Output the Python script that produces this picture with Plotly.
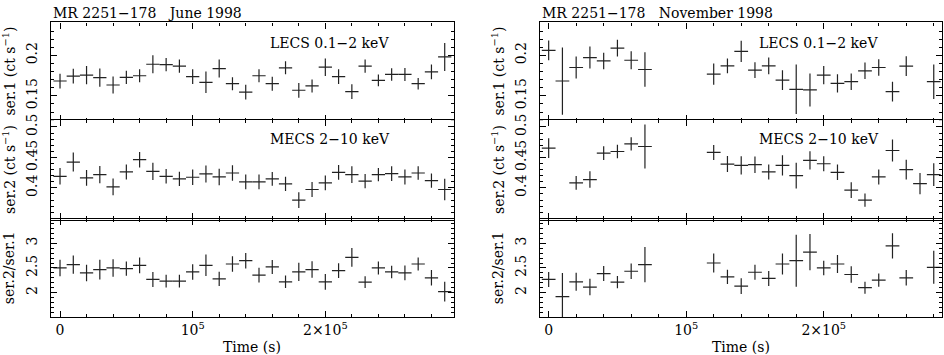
import plotly.graph_objects as go
from plotly.subplots import make_subplots

# bin centres in units of 1e4 s, 10 ks bins
t_june = [i * 1e4 for i in range(30)]
t_nov = [i * 1e4 for i in range(29)]
half_bin = 5000

# June 1998
lecs_june = [0.1683, 0.1744, 0.1756, 0.1724, 0.1634, 0.1728, 0.1748, 0.1890, 0.1886, 0.1866,
             0.1736, 0.1667, 0.1837, 0.1650, 0.1545, 0.1748, 0.1650, 0.1846, 0.1569, 0.1622,
             0.1854, 0.1736, 0.1553, 0.1866, 0.1691, 0.1764, 0.1764, 0.1650, 0.1797, 0.1980]
lecs_june_err = [0.0091, 0.0091, 0.0112, 0.0112, 0.0106, 0.0081, 0.0081, 0.0112, 0.0081, 0.0081,
                 0.0091, 0.0132, 0.0112, 0.0081, 0.0091, 0.0081, 0.0087, 0.0081, 0.0091, 0.0081,
                 0.0108, 0.0091, 0.0091, 0.0081, 0.0071, 0.0077, 0.0081, 0.0071, 0.0091, 0.0173]
mecs_june = [0.4190, 0.4424, 0.4163, 0.4217, 0.4016, 0.4261, 0.4462, 0.4272, 0.4190, 0.4147,
             0.4174, 0.4228, 0.4179, 0.4244, 0.4098, 0.4098, 0.4147, 0.4065, 0.3799, 0.3973,
             0.4081, 0.4255, 0.4217, 0.4109, 0.4217, 0.4233, 0.4179, 0.4244, 0.4119, 0.3973]
mecs_june_err = [0.0136, 0.0155, 0.0130, 0.0141, 0.0136, 0.0122, 0.0128, 0.0141, 0.0119, 0.0117,
                 0.0128, 0.0141, 0.0136, 0.0128, 0.0122, 0.0122, 0.0114, 0.0117, 0.0128, 0.0122,
                 0.0122, 0.0122, 0.0136, 0.0117, 0.0109, 0.0122, 0.0122, 0.0109, 0.0117, 0.0176]
ratio_june = [2.500, 2.567, 2.400, 2.467, 2.500, 2.487, 2.553, 2.267, 2.233, 2.233,
              2.420, 2.553, 2.280, 2.580, 2.647, 2.353, 2.520, 2.220, 2.420, 2.467,
              2.220, 2.447, 2.713, 2.213, 2.500, 2.420, 2.400, 2.580, 2.300, 2.020]
ratio_june_err = [0.167, 0.183, 0.167, 0.200, 0.177, 0.143, 0.160, 0.153, 0.127, 0.127,
                  0.157, 0.217, 0.143, 0.157, 0.157, 0.150, 0.140, 0.127, 0.183, 0.167,
                  0.160, 0.150, 0.190, 0.117, 0.133, 0.127, 0.150, 0.133, 0.157, 0.200]

# November 1998 (None = no bin)
lecs_nov = [0.2061, 0.1683, 0.1850, 0.1972, 0.1931, 0.2089, 0.1939, 0.1825, None, None,
            None, None, 0.1768, 0.1870, 0.2049, 0.1817, 0.1870, 0.1695, 0.1581, 0.1573,
            0.1756, 0.1654, 0.1675, 0.1809, 0.1850, 0.1553, 0.1866, None, 0.1675]
lecs_nov_err = [0.0122, 0.0415, 0.0136, 0.0136, 0.0102, 0.0102, 0.0112, 0.0213, None, None,
                None, None, 0.0132, 0.0091, 0.0132, 0.0098, 0.0102, 0.0122, 0.0305, 0.0203,
                0.0112, 0.0112, 0.0102, 0.0102, 0.0102, 0.0122, 0.0122, None, 0.0213]
mecs_nov = [0.4652, None, 0.4081, 0.4136, 0.4570, 0.4597, 0.4722, 0.4679, None, None,
            None, None, 0.4581, 0.4391, 0.4369, 0.4380, 0.4261, 0.4369, 0.4201, 0.4451,
            0.4396, 0.4255, 0.3962, 0.3799, 0.4179, 0.4613, 0.4299, 0.4071, 0.4217]
mecs_nov_err = [0.0163, None, 0.0114, 0.0136, 0.0114, 0.0109, 0.0109, 0.0361, None, None,
                None, None, 0.0122, 0.0130, 0.0149, 0.0136, 0.0122, 0.0168, 0.0212, 0.0149,
                0.0122, 0.0128, 0.0128, 0.0109, 0.0122, 0.0182, 0.0163, 0.0174, 0.0185]
ratio_nov = [2.267, 1.920, 2.220, 2.113, 2.387, 2.213, 2.433, 2.567, None, None,
             None, None, 2.600, 2.320, 2.133, 2.413, 2.287, 2.580, 2.647, 2.820,
             2.500, 2.580, 2.367, 2.100, 2.253, 2.947, 2.300, None, 2.513]
ratio_nov_err = [0.153, 0.480, 0.183, 0.167, 0.150, 0.123, 0.157, 0.357, None, None,
                 None, None, 0.190, 0.143, 0.160, 0.150, 0.150, 0.213, 0.527, 0.367,
                 0.147, 0.183, 0.167, 0.120, 0.133, 0.257, 0.157, None, 0.333]

W, H = 944, 355
FONT = "DejaVu Serif"
FS = 14

fig = make_subplots(rows=3, cols=2)


def add_curve(t, y, yerr, row, col):
    # crosses only: invisible markers, error bars in both directions
    fig.add_trace(go.Scatter(
        x=t, y=y, mode="markers",
        marker=dict(size=2, color="rgba(0,0,0,0)"),
        error_x=dict(type="data", array=[half_bin] * len(t), width=0, thickness=1.2, color="#222"),
        error_y=dict(type="data", array=yerr, width=0, thickness=1.2, color="#222"),
        showlegend=False, hoverinfo="skip",
    ), row=row, col=col)


add_curve(t_june, lecs_june, lecs_june_err, 1, 1)
add_curve(t_june, mecs_june, mecs_june_err, 2, 1)
add_curve(t_june, ratio_june, ratio_june_err, 3, 1)
add_curve(t_nov, lecs_nov, lecs_nov_err, 1, 2)
add_curve(t_nov, mecs_nov, mecs_nov_err, 2, 2)
add_curve(t_nov, ratio_nov, ratio_nov_err, 3, 2)

# panel geometry in pixels -> paper fractions (rows overlap by 1px so the shared frame lines coincide)
col_px = {1: (51, 454), 2: (540, 942)}
row_px = {1: (16.7, 117.2), 2: (116.2, 217.2), 3: (216.2, 316.7)}
x_range = {1: [-6800, 297000], 2: [-6300, 286000]}
y_range = {1: [0.1187, 0.2406], 2: [0.348, 0.511], 3: [1.5, 3.5]}
y_ticks = {1: [0.15, 0.2], 2: [0.4, 0.45, 0.5], 3: [2, 2.5, 3]}
y_minor = {1: 0.01, 2: 0.01, 3: 0.1}

axis_style = dict(showline=True, linecolor="black", linewidth=1.2, mirror="allticks",
                  ticks="inside", ticklen=6, tickwidth=1, tickcolor="black",
                  showgrid=False, zeroline=False,
                  tickfont=dict(family=FONT, size=FS, color="black"))

for r in (1, 2, 3):
    for c in (1, 2):
        x0, x1 = col_px[c]
        y0, y1 = row_px[r]
        fig.update_xaxes(
            domain=[x0 / W, x1 / W], range=x_range[c],
            tickmode="array", tickvals=[0, 1e5, 2e5],
            ticktext=["0", "10<sup>5</sup>", "2×10<sup>5</sup>"],
            showticklabels=(r == 3),
            minor=dict(ticks="inside", ticklen=3, tickmode="linear", tick0=0, dtick=2e4,
                       tickcolor="black", showgrid=False),
            row=r, col=c, **axis_style)
        fig.update_yaxes(
            domain=[1 - y1 / H, 1 - y0 / H], range=y_range[r],
            tickmode="array", tickvals=y_ticks[r], ticktext=[str(v) for v in y_ticks[r]],
            tickangle=-90, ticklabelstandoff=7,
            minor=dict(ticks="inside", ticklen=3, tickmode="linear", tick0=0, dtick=y_minor[r],
                       tickcolor="black", showgrid=False),
            row=r, col=c, **axis_style)

annotations = []


def note(text, xpx, ypx, xanchor="center", angle=0):
    annotations.append(dict(text=text, x=xpx / W, y=1 - ypx / H, xref="paper", yref="paper",
                            xanchor=xanchor, yanchor="middle", showarrow=False, textangle=angle,
                            font=dict(family=FONT, size=FS, color="black")))


note("MR 2251−178\u00a0\u00a0\u00a0June 1998", 51, 7.5, "left")
note("MR 2251−178\u00a0\u00a0\u00a0November 1998", 540, 7.5, "left")
for c, (x0, x1) in col_px.items():
    note("LECS 0.1−2 keV", x0 + 217, 38, "left")
    note("MECS 2−10 keV", x0 + 217, 135, "left")
    note("Time (s)", (x0 + x1) / 2, 346.5)
    note("ser.1 (ct s<sup>−1</sup>)", x0 - 42, 66.7, angle=-90)
    note("ser.2 (ct s<sup>−1</sup>)", x0 - 42, 166.7, angle=-90)
    note("ser.2/ser.1", x0 - 42, 266.7, angle=-90)

fig.update_layout(
    width=W, height=H,
    margin=dict(l=0, r=0, t=0, b=0),
    paper_bgcolor="white", plot_bgcolor="white",
    annotations=annotations,
    font=dict(family=FONT, color="black"),
)

# drop the default page margin so the figure sits at the window's top-left corner
fig.write_html("out.html", config={"displayModeBar": False},
               post_script="document.body.style.margin='0';")
